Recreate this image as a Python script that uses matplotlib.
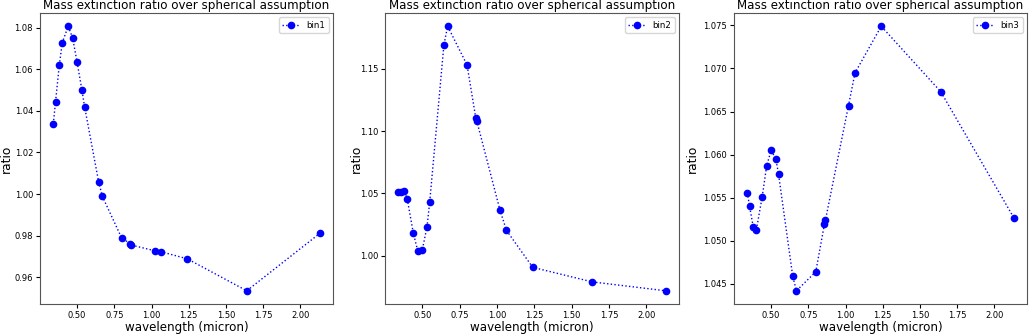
import matplotlib
matplotlib.use("Agg")
import matplotlib.pyplot as plt

# wavelengths (micron) shared by all bins
wavelength = [0.34, 0.355, 0.38, 0.40, 0.44, 0.47, 0.50, 0.532, 0.55, 0.645,
              0.67, 0.80, 0.858, 0.865, 1.02, 1.064, 1.24, 1.64, 2.13]

bin1 = [1.0338, 1.0445, 1.0619, 1.0728, 1.0808, 1.0751, 1.0634, 1.0501, 1.0421,
        1.0057, 0.9988, 0.9787, 0.9761, 0.9754, 0.9727, 0.9722, 0.9688,
        0.9534, 0.9810]
bin2 = [1.0515, 1.0512, 1.0521, 1.0453, 1.0181, 1.0038, 1.0045, 1.0233, 1.0432,
        1.1693, 1.1843, 1.1532, 1.1109, 1.1083, 1.0368, 1.0203, 0.9906,
        0.9789, 0.9718]
bin3 = [1.0556, 1.0540, 1.0516, 1.0512, 1.0551, 1.0587, 1.0605, 1.0595, 1.0577,
        1.0459, 1.0442, 1.0464, 1.0519, 1.0524, 1.0657, 1.0695, 1.0749,
        1.0673, 1.0527]

series = [("bin1", bin1), ("bin2", bin2), ("bin3", bin3)]
# axes left edge (px), width (px), ylabel right-edge offset from the axis (px)
frames = [(40, 293, -27), (385, 294, -22), (734, 293, -35)]

fig = plt.figure(figsize=(10.29, 3.36), dpi=100)
W, H = 1029, 336
for (name, vals), (left, width, yoff) in zip(series, frames):
    ax = fig.add_axes([left / W, (H - 304) / H, width / W, 291 / H])
    ax.plot(wavelength, vals, ":o", color="blue", lw=1, ms=4.5, label=name)
    ax.set_title("Mass extinction ratio over spherical assumption", fontsize=8.6, pad=3)
    ax.set_xlabel("wavelength (micron)", fontsize=8.6, labelpad=1)
    ax.set_ylabel("ratio", fontsize=8.8)
    ax.yaxis.set_label_coords(yoff / width, 0.5)
    ax.tick_params(labelsize=6, length=3, pad=2)
    ax.set_xticks([0.5, 0.75, 1.0, 1.25, 1.5, 1.75, 2.0])
    ax.legend(fontsize=6.2, loc="upper right", handlelength=2)
    for s in ax.spines.values():
        s.set_edgecolor("#555555")

fig.savefig("out.png", dpi=100)
